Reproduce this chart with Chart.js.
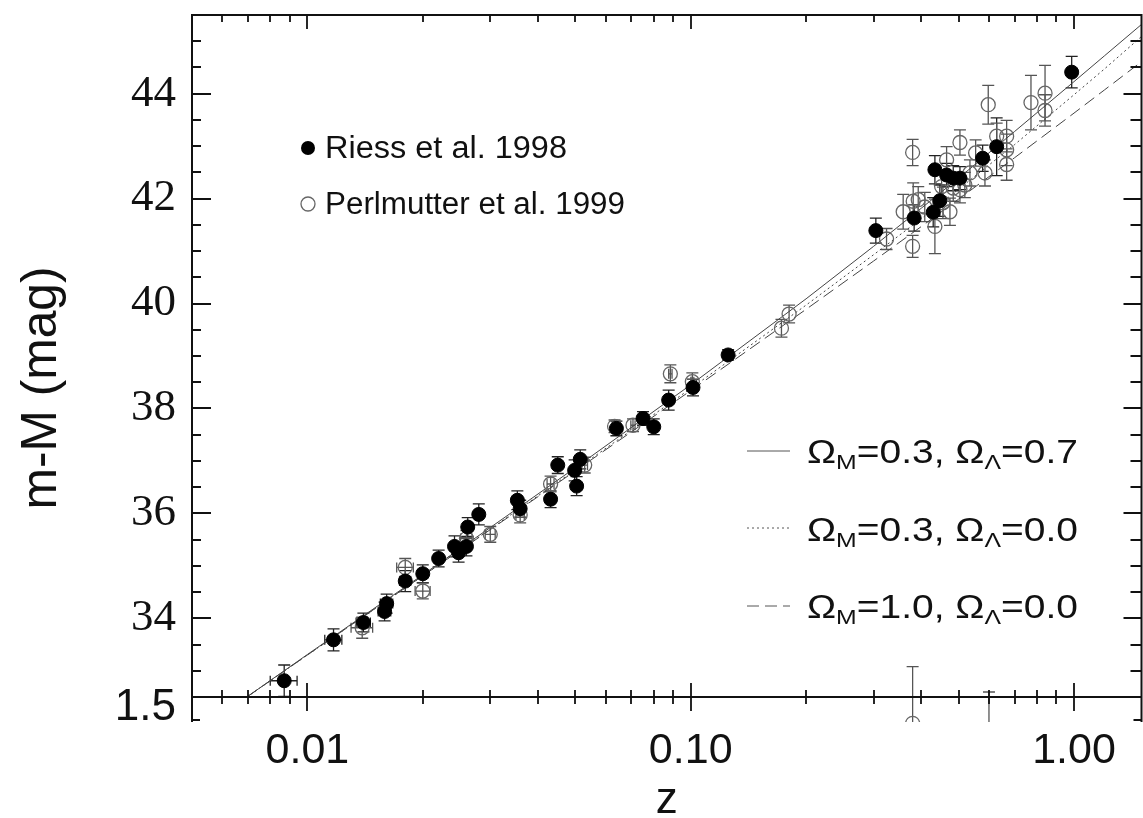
<!DOCTYPE html>
<html>
<head>
<meta charset="utf-8">
<title>Hubble diagram of Type Ia supernovae</title>
<script src="https://cdn.jsdelivr.net/npm/chart.js@4.4.1/dist/chart.umd.min.js"></script>
<style>
  html, body { margin: 0; padding: 0; background: #ffffff; }
  #wrap { position: relative; width: 1143px; height: 818px; overflow: hidden; background: #fff; }
  #chart { position: absolute; left: 0; top: 0; }
  #overlay { position: absolute; left: 0; top: 0; pointer-events: none; }
</style>
</head>
<body>
<div id="wrap">
  <canvas id="chart" width="1150" height="818"></canvas>
  <svg id="overlay" width="1143" height="818" xmlns="http://www.w3.org/2000/svg">
    <g font-family="'Liberation Sans', Arial, Helvetica, sans-serif" fill="#111">
      <text transform="translate(56,388) rotate(-90)" text-anchor="middle" font-size="50" textLength="243" lengthAdjust="spacingAndGlyphs">m-M (mag)</text>
      <circle cx="308" cy="148" r="7" fill="#000"/>
      <text x="325" y="158" font-size="31" textLength="242" lengthAdjust="spacingAndGlyphs">Riess et al. 1998</text>
      <circle cx="308" cy="204" r="7" fill="none" stroke="#666" stroke-width="1.3"/>
      <text x="325" y="214" font-size="31" textLength="300" lengthAdjust="spacingAndGlyphs">Perlmutter et al. 1999</text>

      <line x1="747" y1="451" x2="790" y2="451" stroke="#555" stroke-width="1"/>
      <text x="807" y="463" font-size="33" textLength="271" lengthAdjust="spacingAndGlyphs">Ω<tspan font-size="21" dy="6">M</tspan><tspan font-size="33" dy="-6">=0.3, Ω</tspan><tspan font-size="21" dy="6">Λ</tspan><tspan font-size="33" dy="-6">=0.7</tspan></text>

      <line x1="747" y1="528" x2="790" y2="528" stroke="#555" stroke-width="1" stroke-dasharray="2 3"/>
      <text x="807" y="541" font-size="33" textLength="271" lengthAdjust="spacingAndGlyphs">Ω<tspan font-size="21" dy="6">M</tspan><tspan font-size="33" dy="-6">=0.3, Ω</tspan><tspan font-size="21" dy="6">Λ</tspan><tspan font-size="33" dy="-6">=0.0</tspan></text>

      <line x1="747" y1="606" x2="790" y2="606" stroke="#555" stroke-width="1" stroke-dasharray="12 6"/>
      <text x="807" y="618" font-size="33" textLength="271" lengthAdjust="spacingAndGlyphs">Ω<tspan font-size="21" dy="6">M</tspan><tspan font-size="33" dy="-6">=1.0, Ω</tspan><tspan font-size="21" dy="6">Λ</tspan><tspan font-size="33" dy="-6">=0.0</tspan></text>
    </g>
  </svg>
</div>
<script>
// ---------------- data ----------------
// Riess et al. 1998 (filled circles): redshift, distance modulus, errors
const riessZ = [0.0087,0.0117,0.0140,0.0159,0.0161,0.0180,0.0200,0.0220,0.0242,0.0248,
                0.0260,0.0262,0.0280,0.0353,0.0359,0.0431,0.0450,0.0498,0.0515,0.0504,
                0.0640,0.0751,0.0801,0.0876,0.1014,0.1252,0.3041,0.3828,0.4336,0.4292,
                0.4467,0.4652,0.4841,0.5040,0.5776,0.6284,0.9862];
const riessMu = [32.81,33.59,33.92,34.13,34.28,34.71,34.85,35.14,35.37,35.25,
                 35.37,35.74,35.98,36.25,36.09,36.27,36.92,36.82,37.03,36.52,
                 37.62,37.81,37.65,38.16,38.40,39.02,41.39,41.63,42.55,41.74,
                 41.96,42.45,42.39,42.39,42.77,42.99,44.41];
const riessMuErr = [0.30,0.21,0.18,0.18,0.18,0.20,0.17,0.16,0.20,0.18,
                    0.18,0.18,0.20,0.18,0.16,0.16,0.16,0.20,0.18,0.18,
                    0.14,0.13,0.15,0.19,0.16,0.10,0.24,0.25,0.27,0.28,
                    0.30,0.22,0.24,0.22,0.25,0.55,0.30];
const riessZErr = [0.0007,0.0006,0.0006,0.0006,0.0006,0.0006,0.0006,0.0006,0.0006,0.0006,
                   0.0006,0.0006,0.0006,0.0006,0.0006,0.0006,0.0006,0.0006,0.0006,0.0006,
                   0.0006,0.0006,0.0006,0.0006,0.0006,0.0006,0,0,0,0,
                   0,0,0,0,0,0,0];

// Perlmutter et al. 1999 (open circles)
const perlZ = [0.0139,0.0180,0.0200,0.0300,0.0359,0.0431,0.0529,0.0633,0.0707,0.0885,
               0.1010,0.1725,0.1806,0.3243,0.3793,0.3793,0.3806,0.3584,0.4336,0.3923,
               0.4652,0.5040,0.4841,0.5040,0.5352,0.5538,0.5857,0.5974,0.6284,0.6672,
               0.6672,0.6672,0.7722,0.8403,0.8403,0.4515,0.0260,0.4080,0.4550,0.4746,
               0.5190];
const perlMu = [33.82,34.97,34.52,35.60,35.97,36.56,36.92,37.66,37.68,38.66,
                38.51,39.53,39.80,41.23,42.88,41.09,41.95,41.75,41.47,41.98,
                42.74,43.07,42.20,42.17,42.49,42.87,42.49,43.79,43.19,43.19,
                42.93,42.65,43.83,44.01,43.68,42.23,35.52,41.84,41.92,41.75,
                42.26];
const perlMuErr = [0.20,0.17,0.15,0.15,0.15,0.15,0.15,0.12,0.12,0.17,
                   0.17,0.17,0.17,0.20,0.25,0.21,0.35,0.33,0.52,0.25,
                   0.25,0.24,0.25,0.25,0.25,0.25,0.25,0.37,0.25,0.30,
                   0.30,0.30,0.52,0.53,0.30,0.25,0.15,0.28,0.30,0.26,
                   0.24];
const perlZErr = [0.0009,0.0009,0.0009,0.0009,0.0009,0.0009,0.0009,0.0009,0.0009,0.0009,
                  0.0009,0,0,0,0,0,0,0,0,0,
                  0,0,0,0,0,0,0,0,0,0,
                  0,0,0,0,0,0,0.0009,0,0,0,
                  0];

// residual panel (only its top edge is visible)
const residZ = [0.3793, 0.600];
const residVal = [0.92, 0.55];
const residErr = [1.25, 1.06];

// model curves
const modelZ   = [0.00695,0.01,0.02,0.03,0.05,0.1,0.2,0.3,0.4,0.5,0.7,1.0,1.2,1.5];
const modelLam = [32.50,33.31,34.83,35.73,36.87,38.45,40.09,41.09,41.82,42.39,43.28,44.23,44.72,45.32];
const modelOpen= [32.50,33.30,34.81,35.70,36.83,38.38,39.97,40.93,41.62,42.18,43.03,43.98,44.47,45.09];
const modelEdS = [32.50,33.30,34.81,35.69,36.81,38.34,39.89,40.81,41.47,41.99,42.78,43.63,44.07,44.61];

// ticks
const xTickValues  = [0.01, 0.1, 1];
const xMinorValues = [0.006,0.007,0.008,0.009,0.02,0.03,0.04,0.05,0.06,0.07,0.08,0.09,
                      0.2,0.3,0.4,0.5,0.6,0.7,0.8,0.9];
const yTickValues  = [34, 36, 38, 40, 42, 44];
const yMinorValues = [33,33.5,34.5,35,35.5,36.5,37,37.5,38.5,39,39.5,40.5,41,41.5,42.5,43,43.5,44.5,45];
const rTickValues  = [1.5];
const rMinorValues = [1.0];

// ---------------- chart ----------------
const SANS = "'Liberation Sans', Arial, Helvetica, sans-serif";
const SERIF = "'Liberation Serif', 'Times New Roman', Times, serif";
const toPts = (xs, ys, es, xe) => xs.map((x, i) => ({x: x, y: ys[i], yerr: es ? es[i] : 0, xerr: xe ? xe[i] : 0}));
const toLine = (xs, ys) => xs.map((x, i) => ({x: x, y: ys[i]}));
const noPad = s => { s.paddingTop = 0; s.paddingBottom = 0; s.paddingLeft = 0; s.paddingRight = 0; };

const errorBars = {
  id: 'errorBars',
  beforeDatasetsDraw(chart) {
    const {ctx, chartArea: a} = chart;
    ctx.save();
    ctx.beginPath();
    ctx.rect(a.left, a.top, a.right - a.left, a.bottom - a.top);
    ctx.clip();
    chart.data.datasets.forEach((ds, di) => {
      if (!ds.errorColor) return;
      const meta = chart.getDatasetMeta(di);
      const xs = chart.scales[meta.xAxisID], ys = chart.scales[meta.yAxisID];
      ctx.strokeStyle = ds.errorColor;
      ctx.lineWidth = 1.3;
      const cap = 6;
      ds.data.forEach(p => {
        const px = xs.getPixelForValue(p.x), py = ys.getPixelForValue(p.y);
        ctx.beginPath();
        if (p.yerr) {
          const y1 = ys.getPixelForValue(p.y + p.yerr), y2 = ys.getPixelForValue(p.y - p.yerr);
          ctx.moveTo(px, y1); ctx.lineTo(px, y2);
          ctx.moveTo(px - cap, y1); ctx.lineTo(px + cap, y1);
          ctx.moveTo(px - cap, y2); ctx.lineTo(px + cap, y2);
        }
        if (p.xerr) {
          const x1 = xs.getPixelForValue(p.x - p.xerr), x2 = xs.getPixelForValue(p.x + p.xerr);
          ctx.moveTo(x1, py); ctx.lineTo(x2, py);
          ctx.moveTo(x1, py - 5); ctx.lineTo(x1, py + 5);
          ctx.moveTo(x2, py - 5); ctx.lineTo(x2, py + 5);
        }
        ctx.stroke();
      });
    });
    ctx.restore();
  }
};

const frame = {
  id: 'frame',
  afterDraw(chart) {
    const {ctx, chartArea: a, scales} = chart;
    const x = scales.x, y = scales.y, yr = scales.yr;
    const L = a.left, R = a.right, T = a.top, B = a.bottom, M = y.bottom;
    ctx.save();
    ctx.strokeStyle = '#111';
    ctx.lineWidth = 2;
    ctx.beginPath();
    ctx.moveTo(L, B); ctx.lineTo(L, T); ctx.lineTo(R, T); ctx.lineTo(R, B);
    ctx.moveTo(L, M); ctx.lineTo(R, M);
    ctx.stroke();
    ctx.lineWidth = 1.8;
    ctx.beginPath();
    const yTick = (v, major) => {
      const py = Math.round(y.getPixelForValue(v));
      ctx.moveTo(L, py); ctx.lineTo(L + (major ? 19 : 9), py);
      ctx.moveTo(R, py); ctx.lineTo(R - (major ? 18 : 11), py);
    };
    yTickValues.forEach(v => yTick(v, true));
    yMinorValues.forEach(v => yTick(v, false));
    const xTick = (v, major) => {
      const px = Math.round(x.getPixelForValue(v));
      const len = major ? 14 : 7;
      ctx.moveTo(px, T); ctx.lineTo(px, T + len);
      ctx.moveTo(px, M - len); ctx.lineTo(px, M + len);
    };
    xTickValues.forEach(v => xTick(v, true));
    xMinorValues.forEach(v => xTick(v, false));
    rMinorValues.forEach(v => {
      const py = Math.round(yr.getPixelForValue(v));
      ctx.moveTo(L, py); ctx.lineTo(L + 8, py);
      ctx.moveTo(R, py); ctx.lineTo(R - 8, py);
    });
    ctx.stroke();
    ctx.restore();
  }
};

const openStyle = {xAxisID: 'x', pointRadius: 7, pointHoverRadius: 7, backgroundColor: 'rgba(255,255,255,0)', borderColor: '#666', borderWidth: 1.3, errorColor: '#555'};
const lineStyle = {xAxisID: 'x', yAxisID: 'y', showLine: true, pointRadius: 0, pointHoverRadius: 0, borderColor: '#444', borderWidth: 1, fill: false, tension: 0};

new Chart(document.getElementById('chart'), {
  type: 'scatter',
  data: {
    datasets: [
      {label: 'Riess et al. 1998', xAxisID: 'x', yAxisID: 'y', data: toPts(riessZ, riessMu, riessMuErr, riessZErr),
        pointRadius: 7, pointHoverRadius: 7, backgroundColor: '#000', borderColor: '#000', borderWidth: 1, errorColor: '#222'},
      Object.assign({label: 'Perlmutter et al. 1999', yAxisID: 'y', data: toPts(perlZ, perlMu, perlMuErr, perlZErr)}, openStyle),
      Object.assign({label: 'Perlmutter et al. 1999 (residuals)', yAxisID: 'yr', data: toPts(residZ, residVal, residErr, null)}, openStyle),
      Object.assign({label: 'ΩM=0.3, ΩΛ=0.7', data: toLine(modelZ, modelLam)}, lineStyle),
      Object.assign({label: 'ΩM=0.3, ΩΛ=0.0', data: toLine(modelZ, modelOpen)}, lineStyle, {borderDash: [2, 3]}),
      Object.assign({label: 'ΩM=1.0, ΩΛ=0.0', data: toLine(modelZ, modelEdS)}, lineStyle, {borderDash: [12, 6]})
    ]
  },
  options: {
    responsive: false,
    devicePixelRatio: 1,
    animation: false,
    events: [],
    layout: {padding: {top: 15, right: 8.5, left: 0, bottom: 0}},
    plugins: {legend: {display: false}, tooltip: {enabled: false}, title: {display: false}},
    scales: {
      x: {
        type: 'logarithmic', position: 'bottom', min: 0.005, max: 1.5,
        grid: {display: false}, border: {display: false},
        afterBuildTicks: s => { s.ticks = xTickValues.map(v => ({value: v})); },
        afterFit: s => { s.height = 96; noPad(s); },
        ticks: {autoSkip: false, maxRotation: 0, padding: 0, color: '#111',
                font: {family: SANS, size: 43, lineHeight: 1.0}, callback: v => Number(v).toFixed(2)},
        title: {display: true, text: 'z', color: '#111', font: {family: SANS, size: 44, lineHeight: 0.8}, padding: {top: 0, bottom: 0}}
      },
      yr: {
        type: 'linear', position: 'left', stack: 'panels', stackWeight: 25, min: 0.95, max: 1.5,
        grid: {display: false}, border: {display: false},
        afterBuildTicks: s => { s.ticks = rTickValues.map(v => ({value: v})); },
        afterFit: s => { s.width = 192; noPad(s); },
        ticks: {padding: 8, labelOffset: 11, color: '#111', font: {family: SANS, size: 44, lineHeight: 0.6},
                callback: v => Number(v).toFixed(1)}
      },
      y: {
        type: 'linear', position: 'left', stack: 'panels', stackWeight: 682, min: 32.5, max: 45.5,
        grid: {display: false}, border: {display: false},
        afterBuildTicks: s => { s.ticks = yTickValues.map(v => ({value: v})); },
        afterFit: s => { s.width = 192; noPad(s); },
        ticks: {padding: 8, color: '#111', font: {family: SERIF, size: 45, lineHeight: 0.6},
                callback: v => String(v)}
      }
    }
  },
  plugins: [errorBars, frame]
});
</script>
</body>
</html>
